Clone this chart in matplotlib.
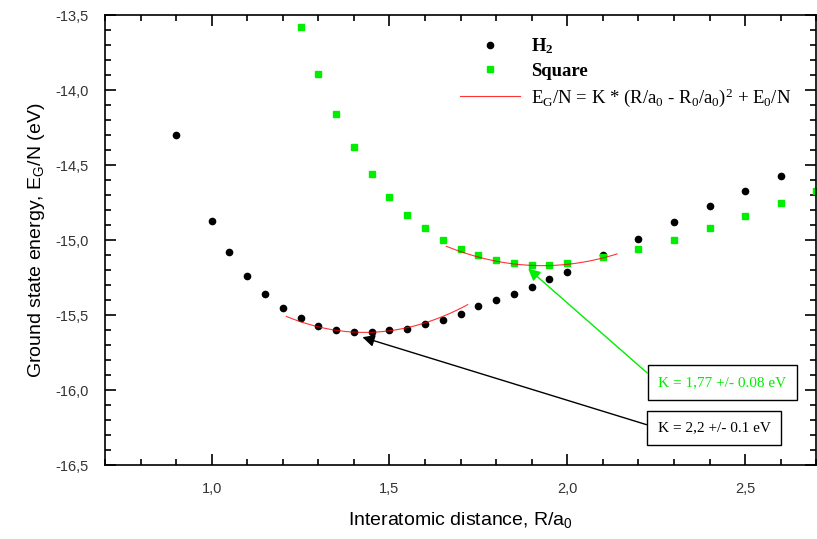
import matplotlib
matplotlib.use("Agg")
import matplotlib.pyplot as plt
from matplotlib.ticker import MultipleLocator, FuncFormatter
import numpy as np

# H2 data
r_h2 = [0.9, 1.0, 1.05, 1.1, 1.15, 1.2, 1.25, 1.3, 1.35, 1.4, 1.45, 1.5, 1.55, 1.6,
        1.65, 1.7, 1.75, 1.8, 1.85, 1.9, 1.95, 2.0, 2.1, 2.2, 2.3, 2.4, 2.5, 2.6]
e_h2 = [-14.30, -14.87, -15.08, -15.24, -15.36, -15.45, -15.52, -15.57, -15.60, -15.61,
        -15.61, -15.60, -15.59, -15.56, -15.53, -15.49, -15.44, -15.40, -15.36, -15.31,
        -15.26, -15.21, -15.10, -14.99, -14.88, -14.77, -14.67, -14.57]

# Square data
r_sq = [1.25, 1.3, 1.35, 1.4, 1.45, 1.5, 1.55, 1.6, 1.65, 1.7, 1.75, 1.8, 1.85, 1.9,
        1.95, 2.0, 2.1, 2.2, 2.3, 2.4, 2.5, 2.6, 2.7]
e_sq = [-13.58, -13.89, -14.16, -14.38, -14.56, -14.71, -14.83, -14.92, -15.00, -15.06,
        -15.10, -15.13, -15.15, -15.165, -15.165, -15.15, -15.11, -15.06, -15.00, -14.92,
        -14.84, -14.75, -14.67]

# fit parameters: K, R0, E0, fit range
fit_h2 = (2.2, 1.43, -15.615, 1.21, 1.72)
fit_sq = (1.77, 1.93, -15.17, 1.66, 2.14)

plt.rcParams['font.family'] = 'Liberation Sans'

fig = plt.figure(figsize=(8.17, 5.39), dpi=100)
ax = fig.add_axes([0.1285, 0.137, 0.8705, 0.835])

ax.plot(r_h2, e_h2, 'o', color='black', markersize=4.5, label=r'H$\mathregular{_2}$')
ax.plot(r_sq, e_sq, 's', color='#00ee00', markersize=4.5, label='Square')

for i, (k, r0, e0, a, b) in enumerate([fit_h2, fit_sq]):
    rr = np.linspace(a, b, 100)
    ax.plot(rr, k * (rr - r0) ** 2 + e0, color='red', lw=0.8, alpha=0.8,
            label=(r'E$\mathregular{_G}$/N = K * (R/a$\mathregular{_0}$ - R$\mathregular{_0}$/a$\mathregular{_0}$)$\mathregular{^2}$ + E$\mathregular{_0}$/N'
                   if i == 0 else None))

ax.set_xlim(0.7, 2.7)
ax.set_ylim(-16.5, -13.5)
ax.xaxis.set_major_locator(MultipleLocator(0.5))
ax.xaxis.set_minor_locator(MultipleLocator(0.1))
ax.yaxis.set_major_locator(MultipleLocator(0.5))
ax.yaxis.set_minor_locator(MultipleLocator(0.1))
comma = FuncFormatter(lambda v, p: f"{v:.1f}".replace('.', ','))
ax.xaxis.set_major_formatter(comma)
ax.yaxis.set_major_formatter(comma)
ax.tick_params(which='both', direction='in', top=True, right=True, width=1.2,
               labelsize=10.5, pad=12, colors='black', labelcolor='#333333')
ax.tick_params(which='major', length=8)
ax.tick_params(which='minor', length=4)
for s in ax.spines.values():
    s.set_linewidth(1.2)

ax.set_xlabel(r'Interatomic distance, R/a$\mathregular{_0}$', fontsize=14, labelpad=10)
ax.set_ylabel(r'Ground state energy, E$\mathregular{_G}$/N (eV)', fontsize=14, labelpad=6)

leg = ax.legend(loc='upper left', bbox_to_anchor=(0.475, 0.99), frameon=False,
                prop={'family': 'Liberation Serif', 'size': 13.5}, handlelength=3.2,
                handletextpad=0.6, labelspacing=0.35)
for t in leg.get_texts()[:2]:
    t.set_fontweight('bold')

ax.annotate('K = 1,77 +/- 0.08 eV', xy=(1.89, -15.19), xytext=(2.436, -15.95),
            ha='center', va='center', color='#00ee00', fontsize=11, family='Liberation Serif',
            bbox=dict(boxstyle='square,pad=0.7', fc='white', ec='black', lw=1),
            arrowprops=dict(arrowstyle='-|>', color='#00ee00', lw=1, mutation_scale=18,
                            relpos=(0, 0.5), shrinkA=0, shrinkB=0))
ax.annotate('K = 2,2 +/- 0.1 eV', xy=(1.424, -15.647), xytext=(2.413, -16.253),
            ha='center', va='center', color='black', fontsize=11, family='Liberation Serif',
            bbox=dict(boxstyle='square,pad=0.7', fc='white', ec='black', lw=1),
            arrowprops=dict(arrowstyle='-|>', color='black', lw=1, mutation_scale=18,
                            relpos=(0, 0.5), shrinkA=0, shrinkB=0))

fig.savefig('out.png', dpi=100)
